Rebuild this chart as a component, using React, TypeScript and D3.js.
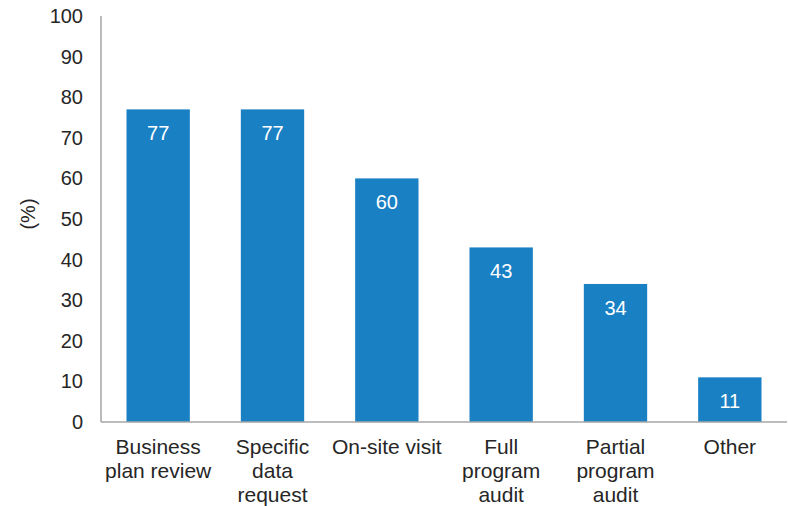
import React from "react";
import * as d3 from "d3";

const categories: string[][] = [
  ["Business", "plan review"],
  ["Specific", "data", "request"],
  ["On-site visit"],
  ["Full", "program", "audit"],
  ["Partial", "program", "audit"],
  ["Other"],
];
const values: number[] = [77, 77, 60, 43, 34, 11];
const yTicks: number[] = [0, 10, 20, 30, 40, 50, 60, 70, 80, 90, 100];
const yTitle = "(%)";

const W = 788;
const H = 506;
const FONT = "'Liberation Sans', Arial, sans-serif";
const BAR = "#1a80c4";
const AXIS = "#a6a6a6";

export default function App() {
  const x0 = 101;
  const x1 = 787;
  const yTop = 16;
  const yBase = 422;
  const x = d3
    .scaleBand<number>()
    .domain(values.map((_, i) => i))
    .range([x0, x1])
    .paddingInner(0.446)
    .paddingOuter(0.223);
  const y = d3.scaleLinear().domain([0, 100]).range([yBase, yTop]);
  const fsTick = 20;
  const fsCat = 21;
  const fsVal = 20;

  return (
    <svg
      width={W}
      height={H}
      style={{ position: "absolute", left: 0, top: 0, background: "#fff" }}
      fontFamily={FONT}
    >
      {values.map((v, i) => (
        <g key={i}>
          <rect
            x={x(i)!}
            y={y(v)}
            width={x.bandwidth()}
            height={yBase - y(v)}
            fill={BAR}
          />
          <text
            x={x(i)! + x.bandwidth() / 2}
            y={y(v) + 24}
            dy="0.35em"
            textAnchor="middle"
            fill="#fff"
            fontSize={fsVal}
          >
            {v}
          </text>
          <text
            x={x(i)! + x.bandwidth() / 2}
            textAnchor="middle"
            fill="#262626"
            fontSize={fsCat}
          >
            {categories[i].map((line, j) => (
              <tspan key={j} x={x(i)! + x.bandwidth() / 2} y={447 + j * 24} dy="0.35em">
                {line}
              </tspan>
            ))}
          </text>
        </g>
      ))}
      <line x1={x0} x2={x0} y1={yTop} y2={yBase} stroke={AXIS} strokeWidth={1.5} />
      <line x1={x0} x2={x1} y1={yBase} y2={yBase} stroke={AXIS} strokeWidth={1.5} />
      {yTicks.map((t) => (
        <text
          key={t}
          x={83}
          y={y(t)}
          dy="0.35em"
          textAnchor="end"
          fill="#262626"
          fontSize={fsTick}
        >
          {t}
        </text>
      ))}
      <text
        transform={`translate(28,214) rotate(-90)`}
        textAnchor="middle"
        dy="0.35em"
        fill="#262626"
        fontSize={fsTick}
      >
        {yTitle}
      </text>
    </svg>
  );
}
